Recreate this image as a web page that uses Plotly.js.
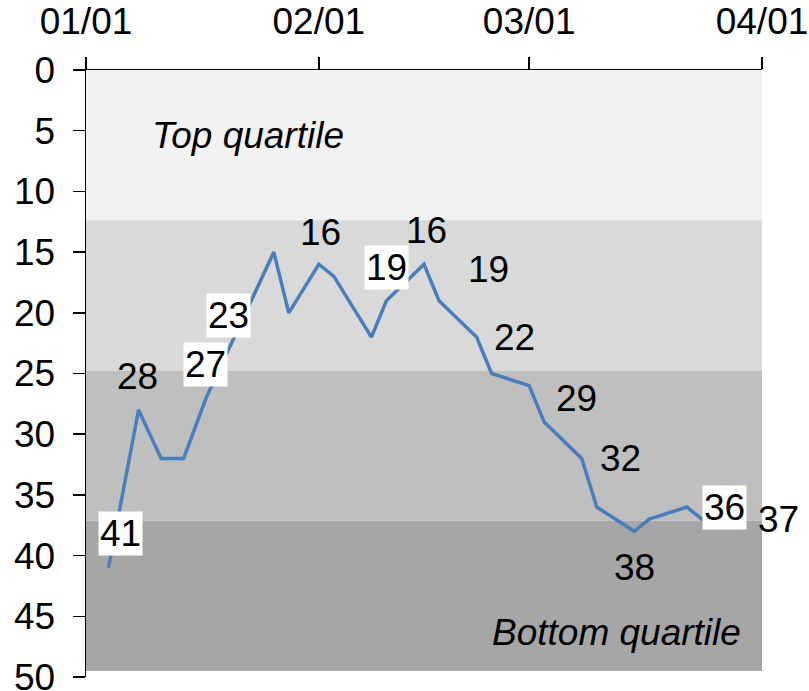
<!DOCTYPE html>
<html>
<head>
<meta charset="utf-8">
<script src="https://cdn.plot.ly/plotly-3.0.1.min.js"></script>
<style>
  html, body { margin: 0; padding: 0; background: #ffffff; }
  #chart { width: 809px; height: 691px; }
</style>
</head>
<body>
<div id="chart"></div>
<script>
// Ranking over the quarter (1 = best), lower rank drawn higher
const dates = [
  '2015-01-04', '2015-01-08', '2015-01-11', '2015-01-14', '2015-01-17',
  '2015-01-20', '2015-01-26', '2015-01-28', '2015-02-01', '2015-02-03',
  '2015-02-08', '2015-02-10', '2015-02-15', '2015-02-17', '2015-02-22',
  '2015-02-24', '2015-03-01', '2015-03-03', '2015-03-08', '2015-03-10',
  '2015-03-15', '2015-03-17', '2015-03-22', '2015-03-24', '2015-03-29'
];
const ranks = [
  41, 28, 32, 32, 27,
  23, 15, 20, 16, 17,
  22, 19, 16, 19, 22,
  25, 26, 29, 32, 36,
  38, 37, 36, 37, 37
];

// Points that carry a value label (indices into dates/ranks)
const labelledPoints = [0, 1, 4, 5, 8, 11, 12, 13, 14, 17, 18, 20, 22, 24];

// Quartile band edges on the rank axis
const bandEdges = [0, 12.375, 24.75, 37.125, 49.5];
const bandNames = ['Top quartile', 'Bottom quartile'];

const tickDates = ['2015-01-01', '2015-02-01', '2015-03-01', '2015-04-01'];
const rankTicks = [0, 5, 10, 15, 20, 25, 30, 35, 40, 45, 50];

// Label placement: [xshift, yshift, boxed]
const labelStyle = {
  0:  [12, 34, true],
  1:  [-1, 33, false],
  4:  [-1, 33, true],
  5:  [0, 34, true],
  8:  [2, 32, false],
  11: [0, 33, true],
  12: [2, 34, false],
  13: [49, 31, false],
  14: [38, 0, false],
  17: [32, 24, false],
  18: [39, 0, false],
  20: [0, -36, false],
  22: [38, 0, true],
  24: [39, 0, false]
};

const FONT = 'Liberation Sans, Arial, sans-serif';
const FS = 37;
const bandColors = ['#f2f2f2', '#d9d9d9', '#bfbfbf', '#a6a6a6'];

const shapes = [];
for (let i = 0; i < bandEdges.length - 1; i++) {
  shapes.push({
    type: 'rect', layer: 'below',
    xref: 'paper', yref: 'y',
    x0: 0, x1: 1, y0: bandEdges[i], y1: bandEdges[i + 1],
    fillcolor: bandColors[i], line: { width: 0 }
  });
}

const annotations = labelledPoints.map(function (idx) {
  const st = labelStyle[idx];
  return {
    x: dates[idx], y: ranks[idx], xref: 'x', yref: 'y',
    text: String(ranks[idx]), showarrow: false,
    xanchor: 'center', yanchor: 'middle',
    xshift: st[0], yshift: st[1],
    font: { family: FONT, size: FS, color: '#000000' },
    bgcolor: st[2] ? '#ffffff' : 'rgba(0,0,0,0)',
    borderpad: 1
  };
});

annotations.push({
  x: 0.094, y: 5.4, xref: 'paper', yref: 'y',
  text: '<i>' + bandNames[0] + '</i>', showarrow: false,
  xanchor: 'left', yanchor: 'middle',
  font: { family: FONT, size: FS, color: '#000000' }
});
annotations.push({
  x: 0.972, y: 46.3, xref: 'paper', yref: 'y',
  text: '<i>' + bandNames[1] + '</i>', showarrow: false,
  xanchor: 'right', yanchor: 'middle',
  font: { family: FONT, size: FS, color: '#000000' }
});

const trace = {
  type: 'scatter', mode: 'lines',
  x: dates, y: ranks,
  line: { color: '#4a7ebb', width: 3.5 },
  hoverinfo: 'skip'
};

const layout = {
  width: 809, height: 691,
  margin: { l: 86, r: 47, t: 70, b: 14 },
  paper_bgcolor: '#ffffff', plot_bgcolor: '#ffffff',
  showlegend: false,
  font: { family: FONT, size: FS, color: '#000000' },
  xaxis: {
    type: 'date', side: 'top',
    range: ['2015-01-01', '2015-04-01'],
    tickmode: 'array', tickvals: tickDates, tickformat: '%m/%d',
    ticks: 'outside', ticklen: 12, tickwidth: 1.5, tickcolor: '#000000',
    ticklabelstandoff: 8, ticklabeloverflow: 'allow',
    showline: true, linecolor: '#000000', linewidth: 1.5,
    showgrid: false, zeroline: false,
    tickfont: { family: FONT, size: FS, color: '#000000' }
  },
  yaxis: {
    range: [50, 0],
    tickmode: 'array', tickvals: rankTicks,
    ticks: 'outside', ticklen: 12, tickwidth: 1.5, tickcolor: '#000000',
    ticklabelstandoff: 10, ticklabeloverflow: 'allow',
    showline: true, linecolor: '#000000', linewidth: 1.5,
    showgrid: false, zeroline: false,
    tickfont: { family: FONT, size: FS, color: '#000000' }
  },
  shapes: shapes,
  annotations: annotations
};

Plotly.newPlot('chart', [trace], layout, { displayModeBar: false, staticPlot: true });
</script>
</body>
</html>
